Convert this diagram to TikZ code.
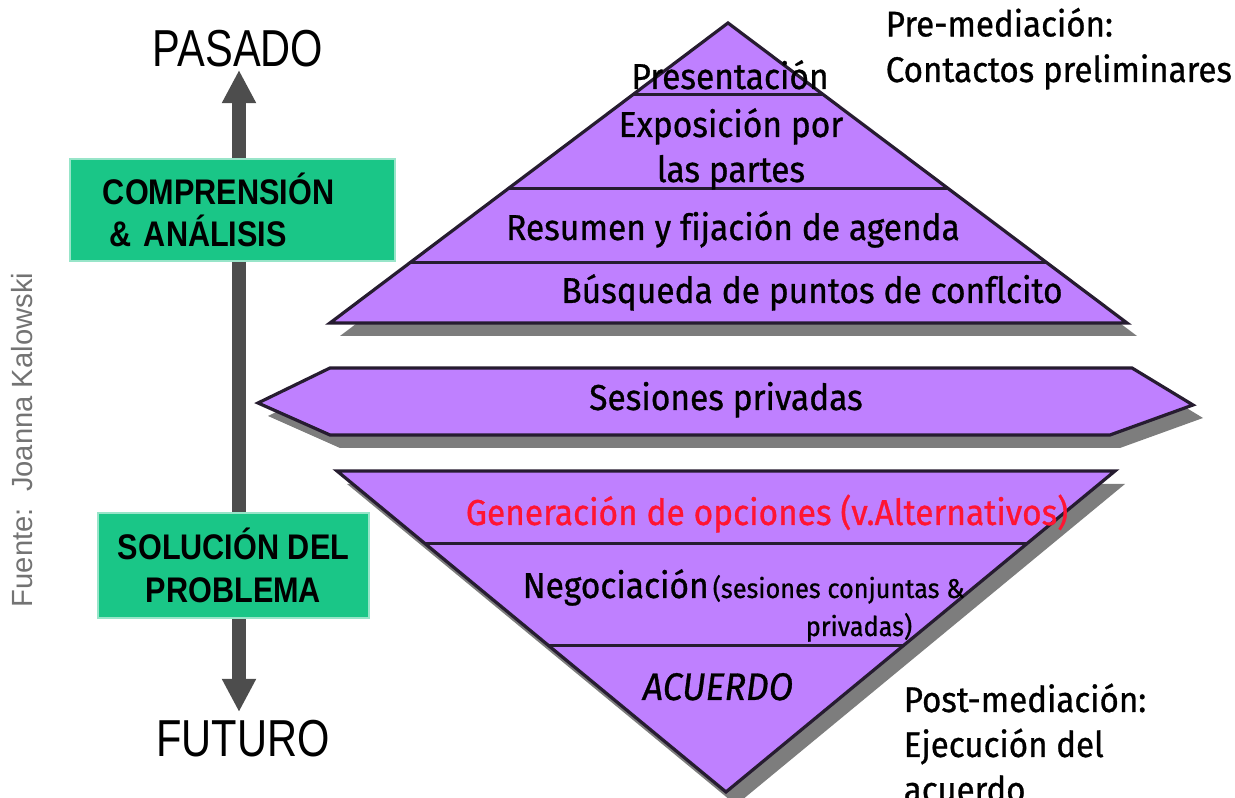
\documentclass[tikz,border=0pt]{standalone}
\usepackage{fontspec}
\usetikzlibrary{arrows.meta,calc}
\setmainfont{Liberation Sans}
\newfontfamily\titlefont[FakeStretch=0.8]{Liberation Sans}
\newfontfamily\boxfont[FakeStretch=0.86]{Liberation Sans}
\newfontfamily\stepfont[FakeStretch=0.93,FakeBold=0.8,Ligatures=NoCommon]{Fira Sans}
\definecolor{lila}{RGB}{191,128,255}
\definecolor{verde}{RGB}{26,198,135}
\definecolor{raya}{RGB}{38,28,48}
\definecolor{sombra}{RGB}{125,125,125}
\definecolor{grisflecha}{RGB}{77,77,77}
\definecolor{rojo}{RGB}{255,20,50}
\tikzset{
  capa/.style={fill=lila,draw=raya,line width=0.8pt,line join=miter},
  sombra/.style={fill=sombra},
  linea/.style={draw=raya,line width=0.75pt},
  paso/.style={anchor=base,inner sep=0pt,font=\stepfont\fontsize{9}{11.25}\selectfont},
  nota/.style={anchor=base west,inner sep=0pt,align=left,font=\stepfont\fontsize{8.9}{11.4}\selectfont},
  caja/.style={fill=verde,draw=verde!45,line width=0.5pt,inner ysep=0pt,
    font=\boxfont\bfseries\fontsize{8.9}{10.6}\selectfont},
  tiempo/.style={anchor=base,inner sep=0pt,font=\titlefont\fontsize{13}{14}\selectfont}
}
\begin{document}
\begin{tikzpicture}[x=0.25pt,y=-0.25pt]
\useasboundingbox (0,0) rectangle (1235,798);

% eje del tiempo
\node[tiempo] (pasado) at (238,67) {PASADO};
\node[tiempo] (futuro) at (243,757) {FUTURO};
\coordinate (arriba) at (239,70);
\coordinate (abajo) at (239,712);
\draw[grisflecha,line width=3.5pt,{Triangle[width=8pt,length=8.3pt]}-{Triangle[width=8pt,length=8.3pt]}] (arriba) -- (abajo);

\node[caja,minimum width=81.25pt,minimum height=25.5pt,text width=64.75pt,inner xsep=8.25pt,align=left]
  (comprension) at (232.5,210) {COMPRENSIÓN\\\hspace*{1.75pt}\& ANÁLISIS};
\node[caja,minimum width=67.75pt,minimum height=26.25pt,align=center]
  (solucion) at (233.5,565.5) {SOLUCIÓN DEL\\PROBLEMA};

\node[rotate=90,anchor=base,inner sep=0pt,text=black!55,font=\fontsize{7.3}{8}\selectfont]
  (fuente) at (33,440) {Fuente:\ \ Joanna Kalowski};

% piramide de arriba
\coordinate (t1) at (728,23);
\coordinate (t2) at (330,323);
\coordinate (t3) at (1127,323);
\fill[sombra] ($(t1)+(10,13)$) -- ($(t3)+(10,13)$) -- ($(t2)+(10,13)$) -- cycle;
\filldraw[capa] (t1) -- (t3) -- (t2) -- cycle;
\foreach \t in {0.24,0.5533,0.8}
  \draw[linea] ($(t1)!\t!(t2)$) -- ($(t1)!\t!(t3)$);

% sesiones privadas
\fill[sombra,shift={(10,13)}] (258,403) -- (330,368) -- (1132,368) -- (1193,405) -- (1110,435) -- (330,435) -- cycle;
\filldraw[capa] (258,403) -- (330,368) -- (1132,368) -- (1193,405) -- (1110,435) -- (330,435) -- cycle;

% piramide de abajo
\coordinate (b1) at (337,471);
\coordinate (b2) at (1115,471);
\coordinate (b3) at (726,792);
\fill[sombra] ($(b1)+(10,13)$) -- ($(b2)+(10,13)$) -- ($(b3)+(10,13)$) -- cycle;
\filldraw[capa] (b1) -- (b2) -- (b3) -- cycle;
\foreach \t in {0.2274,0.545}
  \draw[linea] ($(b1)!\t!(b3)$) -- ($(b2)!\t!(b3)$);

% textos
\node[paso] (presentacion) at (730,89) {Presentación};
\node[paso,align=center] (exposicion) at (731,182) {Exposición por\\las partes};
\node[paso] (resumen) at (733,240) {Resumen y fijación de agenda};
\node[paso] (busqueda) at (812,303) {Búsqueda de puntos de conflcito};
\node[paso] (sesiones) at (726,410) {Sesiones privadas};
\node[paso,text=rojo] (generacion) at (767,525) {Generación de opciones (v.Alternativos)};
\node[paso,anchor=base west] (negociacion) at (522,598) {Negociación};
\node[paso,anchor=base west,font=\stepfont\fontsize{6.8}{8}\selectfont] (conjuntas) at (712,598) {(sesiones conjuntas \&};
\node[paso,anchor=base west,font=\stepfont\fontsize{6.8}{8}\selectfont] (privadas) at (805,636) {privadas)};
\node[paso,font=\stepfont\itshape\fontsize{9.6}{11}\selectfont] (acuerdo) at (718,700) {ACUERDO};

\node[nota] (pre) at (885,82) {Pre-mediación:\\Contactos preliminares};
\node[nota,font=\stepfont\fontsize{8.9}{11.25}\selectfont] (post) at (903,802) {Post-mediación:\\Ejecución del\\acuerdo};
\end{tikzpicture}
\end{document}
